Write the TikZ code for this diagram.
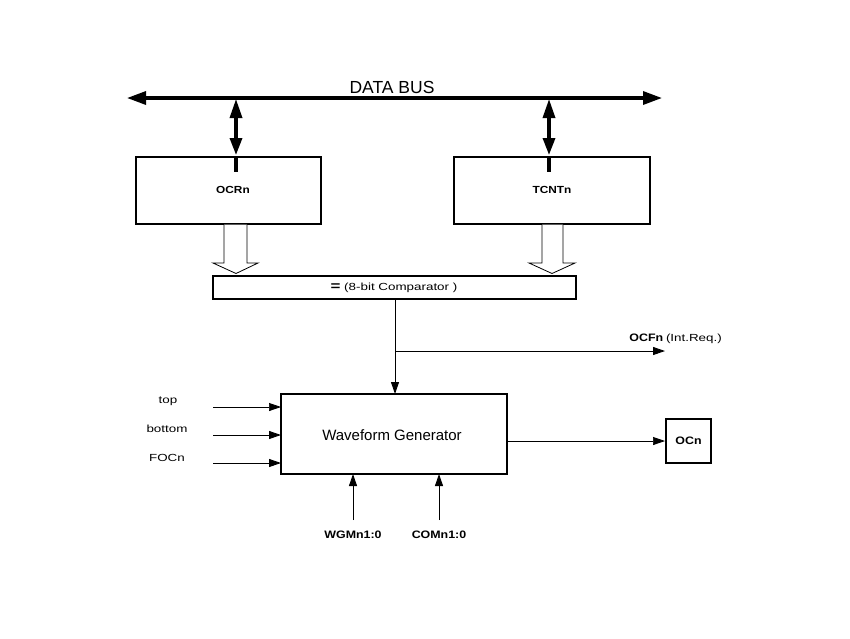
\documentclass[tikz,border=0pt]{standalone}
\usepackage{fontspec}
\setmainfont{Liberation Sans}
\newfontfamily\lblfont[FakeStretch=1.3]{Liberation Sans}
\newfontfamily\boldlbl[FakeStretch=1.15]{Liberation Sans}
\usetikzlibrary{arrows.meta}
\begin{document}
\begin{tikzpicture}[x=1pt,y=-1pt,
  busline/.style={line width=3.3pt},
  blk/.style={draw,line width=1.5pt,inner sep=0pt},
  thin/.style={line width=0.9pt},
  thintip/.style={-{Triangle[length=12pt,width=8pt]}},
  hollow/.style={draw,line width=0.8pt,fill=white},
  lbl/.style={font=\lblfont\fontsize{10.3}{12}\selectfont,inner sep=0pt},
  blbl/.style={font=\boldlbl\fontsize{10.8}{12}\selectfont\bfseries,inner sep=0pt}
]
\useasboundingbox (0,0) rectangle (850,638);

% data bus
\coordinate (busL) at (127,98);
\coordinate (busR) at (662,98);
\draw[busline,{Triangle[length=19pt,width=13pt]}-{Triangle[length=19pt,width=13pt]}] (busL) -- (busR);
\node[font=\fontsize{17.5}{20}\selectfont,inner sep=0pt] (databus) at (392,87) {DATA BUS};

% registers
\node[blk,minimum width=185pt,minimum height=67pt] (ocr) at (228.5,190.5) {};
\node[blbl,font=\boldlbl\fontsize{10.3}{12}\selectfont\bfseries] (ocrlbl) at (233,190) {OCRn};
\node[blk,minimum width=196pt,minimum height=67pt] (tcnt) at (552,190.5) {};
\node[blbl,font=\boldlbl\fontsize{10.3}{12}\selectfont\bfseries] (tcntlbl) at (552,190) {TCNTn};

\coordinate (ocrbus) at (236,99);
\coordinate (tcntbus) at (549,99);
\coordinate (ocrin) at (236,172);
\coordinate (tcntin) at (549,172);
\draw[busline] (236,157) -- (ocrin);
\draw[busline] (549,157) -- (tcntin);
\draw[busline,{Triangle[length=19pt,width=12pt]}-{Triangle[length=17pt,width=12pt]}] (ocrbus) -- (236,155);
\draw[busline,{Triangle[length=19pt,width=12pt]}-{Triangle[length=17pt,width=12pt]}] (tcntbus) -- (549,155);

% comparator
\node[blk,minimum width=363pt,minimum height=23pt] (cmp) at (394.5,287.5) {};
\node[lbl] (cmplbl) at (394,288) {{\fontsize{13}{12}\selectfont\bfseries =} (8-bit Comparator )};

% hollow arrows
\draw[hollow] (224,224.5) -- (224,263) -- (213,263) -- (236,273.5) -- (258,263) -- (247,263) -- (247,224.5);
\draw[hollow] (542,224.5) -- (542,263) -- (529,263) -- (552,273.5) -- (575,263) -- (563,263) -- (563,224.5);

% waveform generator
\node[blk,minimum width=226pt,minimum height=80pt] (wg) at (394,434) {};
\node[font=\fontsize{15}{17}\selectfont,inner sep=0pt] (wglbl) at (392,435) {Waveform Generator};

% OCn
\node[draw,line width=2pt,minimum width=45pt,minimum height=44pt,inner sep=0pt] (ocn) at (688.5,441) {};
\node[blbl] (ocnlbl) at (688.5,441) {OCn};

% comparator output
\coordinate (cmpout) at (395,299);
\coordinate (branch) at (395,351);
\coordinate (wgin) at (395,394);
\coordinate (ocfend) at (665,351);
\draw[thin,thintip] (cmpout) -- (wgin);
\draw[thin,thintip] (branch) -- (ocfend);
\node[inner sep=0pt,anchor=east] (ocf) at (722,339) {{\boldlbl\fontsize{10.8}{12}\selectfont\bfseries OCFn} {\lblfont\fontsize{10.3}{12}\selectfont (Int.Req.)}};

% inputs
\coordinate (topin) at (213,407);
\coordinate (botin) at (213,435);
\coordinate (focin) at (213,463);
\draw[line width=0.7pt,thintip] (topin) -- (281,407);
\draw[thin,thintip] (botin) -- (281,435);
\draw[thin,thintip] (focin) -- (281,463);
\node[lbl] (toplbl) at (168,401) {top};
\node[lbl] (botlbl) at (167,429) {bottom};
\node[lbl] (foclbl) at (167,458) {FOCn};

\coordinate (wgmin) at (353,520);
\coordinate (comin) at (439,520);
\draw[thin,thintip] (wgmin) -- (353,474);
\draw[thin,thintip] (comin) -- (439,474);
\node[blbl] (wgmlbl) at (353,535) {WGMn1:0};
\node[blbl] (comlbl) at (439,535) {COMn1:0};

% output
\draw[line width=0.7pt,thintip] (507,441) -- (ocn.west);
\end{tikzpicture}
\end{document}
